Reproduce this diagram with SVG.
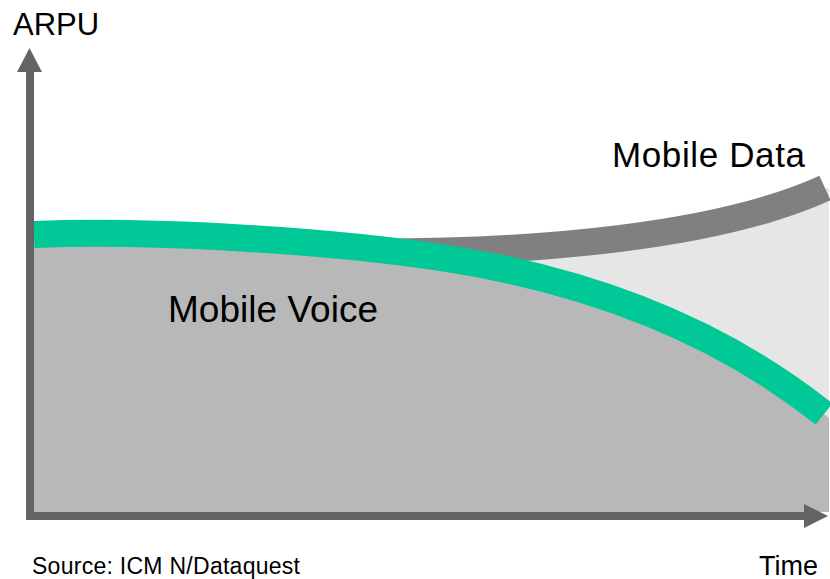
<svg xmlns="http://www.w3.org/2000/svg" width="830" height="579" viewBox="0 0 830 579">
<style>
text{font-family:"Liberation Sans",Arial,sans-serif;fill:#000}
.axis{fill:#646464}
.curve{fill:none;stroke-linecap:butt}
</style>
<rect width="830" height="579" fill="#fff"/>
<g id="areas">
<path id="data-area" d="M360,252 C540,253 720,236 825,188 L829,188 L829,512 L360,512 Z" fill="#e6e6e6"/>
</g>
<g id="data-curve">
<path class="curve" d="M360,252 C540,253 720,236 825,188" stroke="#808080" stroke-width="27"/>
</g>
<g id="voice-area">
<path d="M34,234.5 C150,230 330,240 450,259 C600,283 725,335 824,414 L829,418 L829,512 L34,512 Z" fill="#b8b8b8"/>
</g>
<g id="voice-curve">
<path class="curve" d="M34,234.5 C150,230 330,240 450,259 C600,283 725,335 824,414" stroke="#00c896" stroke-width="27"/>
</g>
<g id="axes">
<rect class="axis" x="26" y="70" width="8" height="450"/>
<polygon class="axis" points="29.5,48 42,72 17,72"/>
<rect class="axis" x="26" y="512" width="780" height="8"/>
<polygon class="axis" points="828,516 804,504 804,528"/>
</g>
<g id="labels">
<text x="13" y="35" font-size="31">ARPU</text>
<text x="612" y="167" font-size="35" textLength="193">Mobile Data</text>
<text x="168" y="322" font-size="37" textLength="210">Mobile Voice</text>
<text x="32" y="574" font-size="23" textLength="268">Source: ICM N/Dataquest</text>
<text x="759" y="575" font-size="27">Time</text>
</g>
</svg>
